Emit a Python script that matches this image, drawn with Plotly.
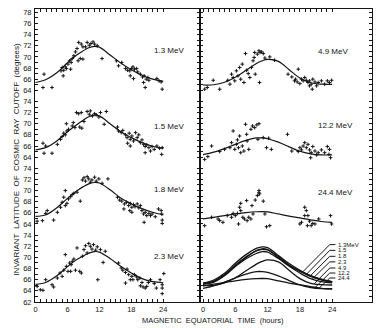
import numpy as np
import plotly.graph_objects as go
from plotly.subplots import make_subplots

# ---- fitted diurnal curves (hour of magnetic equatorial time -> cutoff latitude) ----
FIT_HOURS = [0, 2, 4, 6, 8, 10, 11, 12, 14, 16, 18, 20, 22, 24]
fit_13 = [65.4, 65.95, 67.15, 68.95, 70.5, 71.65, 71.9, 71.75, 70.35, 68.9, 67.7, 66.7, 66.0, 65.6]
fit_15 = [65.3, 65.75, 66.9, 68.55, 70.0, 71.25, 71.55, 71.4, 70.0, 68.55, 67.5, 66.6, 65.95, 65.55]
fit_18 = [65.35, 65.65, 66.9, 68.6, 70.1, 71.2, 71.45, 71.35, 70.15, 68.65, 67.6, 66.75, 66.1, 65.65]
fit_23 = [65.15, 65.55, 66.7, 68.35, 69.75, 70.75, 71.05, 70.95, 69.8, 68.4, 67.2, 66.2, 65.65, 65.45]
fit_49 = [64.95, 65.0, 65.45, 66.35, 67.6, 68.85, 69.3, 69.55, 69.2, 67.7, 66.2, 65.35, 65.1, 65.05]
fit_122 = [64.45, 64.9, 65.55, 66.3, 67.0, 67.45, 67.45, 67.3, 66.7, 65.85, 65.05, 64.6, 64.4, 64.4]
fit_244 = [64.9, 65.2, 65.5, 65.8, 66.05, 66.2, 66.22, 66.18, 65.8, 65.4, 65.1, 64.75, 64.45, 64.3]

# ---- observed cutoffs: (hour, latitude) ----
obs_13 = [(1.6, 66.9), (1.4, 64.5), (3.1, 64.5), (4.8, 67.5), (5.0, 68.1), (5.3, 67.6), (5.6, 68.2),
          (5.2, 66.6), (5.8, 67.9), (6.1, 68.7), (6.4, 69.3), (6.7, 69.0), (6.9, 69.7), (7.2, 70.2),
          (6.6, 67.8), (7.5, 70.9), (7.8, 71.5), (8.1, 72.6), (8.6, 72.3), (8.9, 71.8), (8.4, 69.7),
          (8.9, 69.6), (8.0, 69.3), (9.4, 71.8), (9.7, 72.6), (10.1, 72.1), (10.4, 72.4), (10.8, 72.7),
          (11.1, 72.3), (11.6, 72.0), (12.5, 69.7), (15.2, 69.3), (15.6, 68.4), (16.2, 69.0), (16.9, 67.9),
          (17.3, 67.6), (17.7, 67.5), (18.0, 67.9), (18.3, 68.2), (18.6, 67.8), (19.0, 67.9), (19.2, 67.3),
          (17.8, 66.6), (18.4, 66.1), (19.7, 66.9), (20.1, 66.4), (20.4, 66.6), (20.8, 66.0), (21.1, 66.3),
          (21.3, 65.8), (20.6, 64.5), (20.3, 65.4), (22.8, 66.1), (23.2, 65.7), (23.6, 65.5), (23.8, 64.2)]
obs_15 = [(1.4, 66.5), (1.9, 66.0), (1.6, 64.7), (3.1, 64.7), (4.1, 66.3), (4.7, 67.2), (5.0, 67.7),
          (5.3, 68.3), (5.6, 68.0), (5.9, 68.7), (6.2, 69.0), (5.8, 70.0), (6.9, 69.6), (7.1, 70.2),
          (7.4, 69.3), (7.7, 72.0), (8.1, 71.8), (8.6, 72.0), (8.3, 69.4), (8.7, 69.2), (9.1, 70.4),
          (9.7, 72.2), (10.1, 71.7), (10.3, 72.3), (10.7, 71.4), (11.1, 71.8), (11.4, 71.6), (11.9, 71.2),
          (12.2, 72.0), (13.3, 72.2), (12.9, 69.9), (15.4, 69.4), (15.6, 68.7), (16.1, 68.4), (16.4, 68.8),
          (16.9, 68.0), (17.2, 67.5), (17.6, 68.3), (17.8, 67.2), (18.1, 67.8), (18.4, 66.9), (18.8, 68.4),
          (19.1, 67.5), (19.4, 68.0), (17.3, 66.5), (17.8, 66.0), (19.7, 66.6), (20.0, 67.1), (20.3, 66.3),
          (20.6, 65.9), (20.9, 66.2), (20.6, 64.8), (21.3, 65.7), (21.9, 65.9), (22.3, 65.4), (22.8, 66.0),
          (23.3, 65.6), (23.8, 65.7), (23.7, 64.5), (21.6, 65.1)]
obs_18 = [(0.3, 64.5), (1.3, 64.6), (1.9, 65.9), (2.2, 66.4), (3.4, 64.7), (4.1, 66.1), (4.7, 67.0),
          (5.0, 67.9), (5.3, 68.8), (5.6, 67.3), (5.9, 67.7), (6.2, 68.5), (6.6, 68.9), (6.9, 69.3),
          (7.2, 69.5), (5.6, 70.0), (7.8, 69.7), (8.4, 68.1), (8.8, 71.9), (9.1, 72.3), (9.4, 71.7),
          (9.7, 72.5), (10.0, 72.1), (10.3, 71.5), (10.6, 71.9), (11.1, 72.4), (11.4, 71.7), (11.9, 72.1),
          (12.5, 71.3), (13.6, 72.1), (15.4, 68.8), (15.8, 68.3), (16.2, 68.1), (16.7, 67.6), (17.1, 67.9),
          (17.5, 67.3), (17.8, 67.7), (18.1, 67.0), (18.4, 67.5), (18.7, 67.1), (19.1, 67.6), (19.4, 66.9),
          (17.7, 66.4), (18.1, 66.1), (19.7, 67.3), (20.0, 66.4), (20.3, 65.8), (20.6, 66.1), (20.9, 65.5),
          (21.3, 65.9), (20.4, 64.3), (21.6, 65.5), (21.9, 65.8), (22.5, 65.3), (23.1, 66.7), (23.6, 66.4),
          (23.7, 65.8), (23.8, 64.1), (23.8, 64.7), (16.6, 66.7)]
obs_23 = [(0.3, 64.8), (0.9, 64.2), (1.4, 64.1), (1.9, 66.0), (3.1, 65.1), (3.4, 64.7), (4.1, 66.3),
          (4.6, 67.2), (5.0, 66.6), (5.3, 67.7), (5.6, 70.5), (5.8, 68.4), (6.1, 67.5), (6.4, 69.0),
          (6.7, 68.7), (6.9, 69.3), (7.2, 69.7), (6.6, 67.5), (7.5, 67.7), (7.8, 71.7), (8.3, 67.5),
          (8.6, 67.2), (8.8, 70.2), (9.1, 71.4), (9.4, 72.1), (9.7, 70.8), (10.0, 72.5), (10.3, 72.0),
          (10.6, 71.5), (10.9, 72.3), (11.3, 71.3), (11.6, 71.9), (11.7, 66.0), (12.2, 71.4), (13.1, 71.1),
          (12.7, 69.1), (15.6, 69.0), (16.1, 68.1), (16.4, 67.7), (16.9, 67.3), (17.2, 67.9), (17.5, 66.9),
          (16.9, 65.4), (17.8, 66.0), (18.1, 66.6), (18.6, 66.9), (19.0, 66.5), (19.2, 66.0), (19.6, 66.3),
          (20.0, 65.5), (19.7, 64.9), (20.2, 64.7), (20.6, 64.5), (20.9, 64.8), (21.2, 65.5), (21.6, 66.0),
          (22.3, 65.3), (22.7, 64.5), (23.4, 66.0), (23.8, 65.1), (23.8, 64.5), (23.8, 63.5), (24.1, 67.1),
          (18.3, 66.0)]
obs_49 = [(0.3, 64.2), (0.8, 64.5), (1.9, 65.8), (3.1, 64.2), (4.6, 65.8), (5.0, 65.1), (5.3, 66.9),
          (5.6, 66.3), (5.9, 65.7), (6.2, 67.5), (6.5, 66.6), (6.8, 68.1), (7.0, 66.0), (7.3, 68.7),
          (7.6, 65.4), (7.9, 70.6), (8.1, 67.6), (8.4, 67.0), (8.7, 66.3), (9.0, 68.1), (9.3, 69.3),
          (9.6, 70.8), (9.5, 69.9), (9.7, 66.9), (10.1, 70.5), (10.4, 71.1), (10.6, 70.8), (10.9, 70.9),
          (11.2, 70.6), (10.5, 65.4), (11.5, 69.8), (12.4, 70.0), (13.3, 69.4), (15.8, 66.9), (16.5, 66.4),
          (17.2, 66.0), (17.7, 67.8), (17.5, 65.5), (18.0, 65.2), (18.3, 66.0), (18.6, 65.7), (18.9, 66.3),
          (19.2, 65.8), (19.5, 65.4), (19.8, 65.7), (20.1, 65.1), (20.4, 66.0), (20.3, 64.2), (20.8, 65.5),
          (21.1, 64.8), (21.4, 65.4), (22.0, 65.7), (22.6, 65.1), (23.1, 65.7), (23.5, 65.4), (23.9, 65.8),
          (19.8, 64.8), (17.0, 65.7)]
obs_122 = [(0.3, 63.6), (0.9, 64.1), (1.6, 66.0), (3.1, 65.0), (4.0, 65.4), (5.0, 65.7), (5.3, 66.6),
           (5.6, 68.7), (5.9, 65.4), (6.2, 66.3), (6.4, 67.1), (6.6, 65.7), (6.8, 67.8), (7.0, 64.8),
           (7.3, 66.0), (7.6, 65.1), (7.9, 69.9), (8.1, 68.1), (8.2, 66.9), (8.5, 65.4), (8.9, 69.0),
           (9.2, 69.6), (9.6, 69.3), (10.0, 69.8), (10.4, 70.0), (10.2, 67.2), (11.2, 67.5), (11.8, 65.7),
           (12.2, 67.4), (12.7, 65.4), (15.7, 68.1), (16.5, 65.1), (17.7, 65.0), (18.0, 65.7), (18.3, 65.3),
           (18.6, 66.0), (18.9, 66.6), (19.2, 65.7), (19.5, 66.3), (19.8, 65.3), (20.1, 64.8), (20.4, 65.9),
           (20.0, 63.9), (20.8, 65.1), (21.1, 64.4), (21.4, 64.8), (22.0, 65.3), (22.6, 64.8), (23.1, 65.9),
           (23.5, 65.4), (23.7, 63.9), (23.4, 64.5)]
obs_244 = [(0.3, 63.7), (1.6, 65.2), (2.8, 64.9), (3.1, 64.6), (3.7, 64.3), (4.5, 65.5), (5.3, 65.2),
           (5.6, 65.9), (6.0, 65.5), (6.4, 65.9), (6.6, 64.0), (6.8, 67.0), (7.0, 67.7), (7.0, 66.4),
           (7.4, 65.2), (7.7, 64.9), (8.1, 68.2), (8.2, 64.6), (8.5, 65.2), (8.9, 64.9), (9.1, 67.3),
           (9.3, 65.8), (9.7, 68.3), (10.1, 69.1), (10.4, 70.0), (10.4, 69.6), (10.5, 69.4), (11.2, 68.1),
           (11.5, 65.8), (11.8, 63.5), (12.4, 63.7), (18.9, 67.0), (19.2, 66.4), (19.5, 65.5), (18.9, 65.5),
           (18.3, 64.3), (19.8, 64.5), (20.1, 63.7), (20.4, 64.1), (20.8, 64.0), (21.5, 64.9), (23.7, 65.5),
           (23.9, 64.0), (18.0, 64.0), (19.4, 63.7)]

ENERGY_LABELS = ["1.3 MeV", "1.5 MeV", "1.8 MeV", "2.3 MeV", "4.9 MeV", "12.2 MeV", "24.4 MeV"]
SUMMARY_LABELS = ["1.3MeV", "1.5", "1.8", "2.3", "4.9", "12.2", "24.4"]

# panel placement: (row, col, label, observations, fit, label position)
panels = [
    (1, 1, ENERGY_LABELS[0], obs_13, fit_13, (21.9, 71.1)),
    (2, 1, ENERGY_LABELS[1], obs_15, fit_15, (21.9, 69.5)),
    (3, 1, ENERGY_LABELS[2], obs_18, fit_18, (21.9, 70.2)),
    (4, 1, ENERGY_LABELS[3], obs_23, fit_23, (21.9, 70.1)),
    (1, 2, ENERGY_LABELS[4], obs_49, fit_49, (21.0, 71.0)),
    (2, 2, ENERGY_LABELS[5], obs_122, fit_122, (21.0, 69.6)),
    (3, 2, ENERGY_LABELS[6], obs_244, fit_244, (21.0, 69.6)),
]
all_fits = [fit_13, fit_15, fit_18, fit_23, fit_49, fit_122, fit_244]

INK = "#151515"
FONT = "Liberation Sans, Arial, sans-serif"
Y_RANGES = {1: [63, 78.6], 2: [63, 75], 3: [63, 75], 4: [62, 75]}
X_RANGES = {1: [-0.1, 30.9], 2: [-0.56, 31.4]}

fig = make_subplots(rows=4, cols=2, row_heights=[86.7, 66.7, 66.7, 72.3],
                    column_widths=[165, 172], horizontal_spacing=0, vertical_spacing=0)

for r, c, label, obs, fit, (lx, ly) in panels:
    hrs, lat = zip(*obs)
    fig.add_trace(go.Scatter(x=hrs, y=lat, mode="markers",
                             marker=dict(symbol="cross-thin", size=2.6,
                                         line=dict(width=1, color=INK)),
                             hoverinfo="skip", showlegend=False), row=r, col=c)
    fig.add_trace(go.Scatter(x=FIT_HOURS, y=fit, mode="lines",
                             line=dict(color=INK, width=1.2, shape="spline"),
                             hoverinfo="skip", showlegend=False), row=r, col=c)
    fig.add_annotation(text=label, x=lx, y=ly, xanchor="left", yanchor="middle",
                       showarrow=False, font=dict(family=FONT, size=8, color=INK),
                       row=r, col=c)

# summary panel: all fitted curves with labelled leader lines
for fit in all_fits:
    fig.add_trace(go.Scatter(x=FIT_HOURS, y=fit, mode="lines",
                             line=dict(color=INK, width=1.3, shape="spline"),
                             hoverinfo="skip", showlegend=False), row=4, col=2)

label_lat = [72.3, 71.27, 70.2, 69.2, 68.1, 67.2, 66.3]
leader_hour = [18.55, 19.2, 20.0, 20.3, 20.65, 20.75, 21.6]
for text, fit, lv, lh in zip(SUMMARY_LABELS, all_fits, label_lat, leader_hour):
    cv = float(np.interp(lh, FIT_HOURS, fit))
    fig.add_trace(go.Scatter(x=[lh, 23.55, 24.6], y=[cv, lv, lv], mode="lines",
                             line=dict(color=INK, width=1),
                             hoverinfo="skip", showlegend=False), row=4, col=2)
    fig.add_annotation(text=text, x=24.7, y=lv, xanchor="left", yanchor="middle",
                       showarrow=False, font=dict(family=FONT, size=6, color=INK),
                       row=4, col=2)

hour_ticks = list(range(25))
hour_text = [str(h) if h % 6 == 0 else "" for h in hour_ticks]

for r in range(1, 5):
    lo, hi = Y_RANGES[r]
    yvals = list(range(int(np.ceil(lo)), int(np.floor(hi)) + 1))
    ytext = [str(v) if v % 2 == 0 and v != 63 else "" for v in yvals]
    for c in (1, 2):
        xa = dict(range=X_RANGES[c], showgrid=False, zeroline=False)
        if r == 4:
            xa.update(showline=True, linecolor=INK, linewidth=1, ticks="inside", ticklen=3,
                      tickwidth=1, tickcolor=INK, tickmode="array", tickvals=hour_ticks,
                      ticktext=hour_text, tickfont=dict(family=FONT, size=7.5, color=INK),
                      ticklabelstandoff=0)
        elif r == 1:
            xa.update(side="top", showline=True, linecolor=INK, linewidth=1, ticks="inside",
                      ticklen=3, tickwidth=1, tickcolor=INK, tickmode="array",
                      tickvals=hour_ticks, showticklabels=False)
        else:
            xa.update(visible=False)
        fig.update_xaxes(row=r, col=c, **xa)

        ya = dict(range=[lo, hi], showgrid=False, zeroline=False, showline=True,
                  linecolor=INK, linewidth=1, mirror="ticks", ticks="inside", ticklen=3,
                  tickwidth=1, tickcolor=INK, tickmode="array", tickvals=yvals)
        if c == 1:
            ya.update(ticktext=ytext, tickfont=dict(family=FONT, size=7.5, color=INK),
                      ticklabelstandoff=1)
        else:
            ya.update(showticklabels=False)
        fig.update_yaxes(row=r, col=c, **ya)

sp = "\u00a0\u00a0"
fig.add_annotation(text=sp.join(["INVARIANT", "LATITUDE", "OF", "COSMIC", "RAY", "CUTOFF", "(degrees)"]),
                   xref="paper", yref="paper", x=-0.073, y=0.489, textangle=-90,
                   showarrow=False, font=dict(family=FONT, size=8, color=INK))
fig.add_annotation(text=sp.join(["MAGNETIC", "EQUATORIAL", "TIME", "(hours)"]),
                   xref="paper", yref="paper", x=0.527, y=-0.062, yanchor="middle",
                   showarrow=False, font=dict(family=FONT, size=7.5, color=INK))

fig.update_layout(width=383, height=328, margin=dict(l=35, r=11, t=9, b=26),
                  paper_bgcolor="white", plot_bgcolor="white", showlegend=False)

fig.write_html("out.html")
